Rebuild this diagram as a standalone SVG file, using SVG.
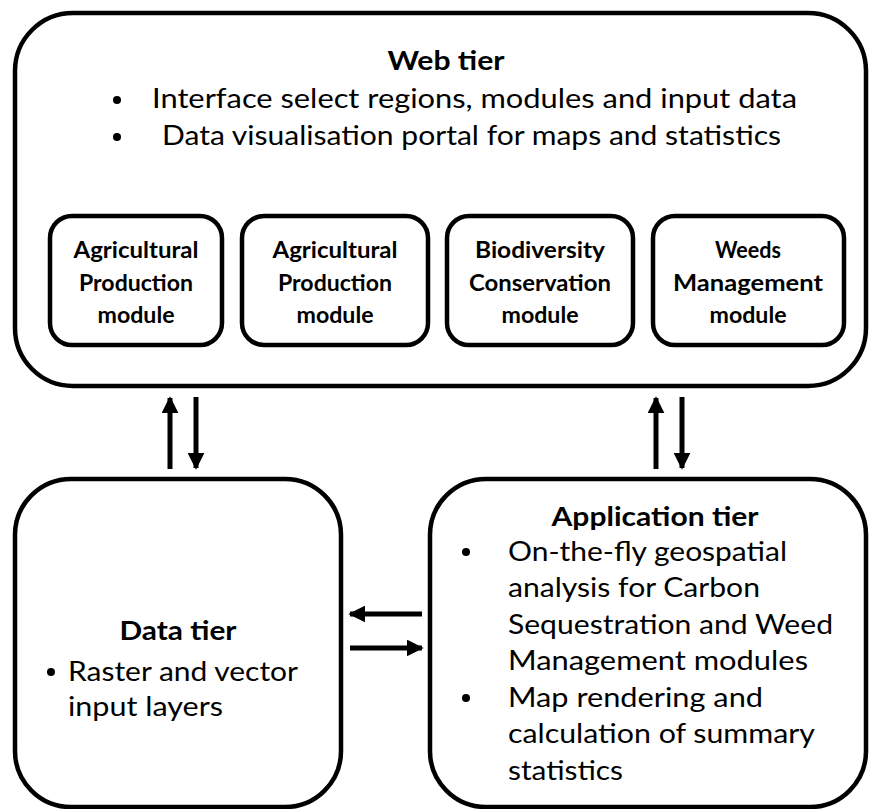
<svg xmlns="http://www.w3.org/2000/svg" width="869" height="809" viewBox="0 0 869 809">
  <style>
    .tier { fill: #ffffff; stroke: #000000; stroke-width: 4.5; }
    .mod { fill: #ffffff; stroke: #000000; stroke-width: 4.5; }
    text { font-family: "Lato", "Open Sans", "Liberation Sans", sans-serif; fill: #000000; }
    .title { font-size: 27px; font-weight: bold; text-anchor: middle; }
    .body { font-size: 26px; }
    .mt { font-size: 22px; font-weight: bold; text-anchor: middle; }
    .link { stroke: #000000; stroke-width: 5; fill: none; }
  </style>
  <defs>
    <marker id="head" viewBox="0 0 10 10" refX="9" refY="5" markerWidth="3.4" markerHeight="3.4" orient="auto" markerUnits="strokeWidth">
      <path d="M0,0 L10,5 L0,10 Z" fill="#000000"/>
    </marker>
  </defs>

  <!-- Web tier with its four module boxes -->
  <g id="web-tier">
    <rect class="tier" x="15" y="13" width="851" height="373" rx="58" ry="58"/>
    <text class="title" x="446" y="70" textLength="117" lengthAdjust="spacingAndGlyphs">Web tier</text>
    <circle cx="117" cy="100" r="4"/>
    <text class="body" x="152" y="108" textLength="645" lengthAdjust="spacingAndGlyphs">Interface select regions, modules and input data</text>
    <circle cx="117" cy="137" r="4"/>
    <text class="body" x="162" y="145" textLength="619" lengthAdjust="spacingAndGlyphs">Data visualisation portal for maps and statistics</text>
  </g>

  <g id="module-agri-1">
    <rect class="mod" x="50" y="216" width="172" height="129" rx="22" ry="22"/>
    <text class="mt" x="136" y="258" textLength="125" lengthAdjust="spacingAndGlyphs">Agricultural</text>
    <text class="mt" x="136" y="291" textLength="114" lengthAdjust="spacingAndGlyphs">Production</text>
    <text class="mt" x="136" y="323" textLength="77" lengthAdjust="spacingAndGlyphs">module</text>
  </g>
  <g id="module-agri-2">
    <rect class="mod" x="242" y="216" width="186" height="129" rx="22" ry="22"/>
    <text class="mt" x="335" y="258" textLength="125" lengthAdjust="spacingAndGlyphs">Agricultural</text>
    <text class="mt" x="335" y="291" textLength="114" lengthAdjust="spacingAndGlyphs">Production</text>
    <text class="mt" x="335" y="323" textLength="77" lengthAdjust="spacingAndGlyphs">module</text>
  </g>
  <g id="module-biodiversity">
    <rect class="mod" x="447" y="216" width="186" height="129" rx="22" ry="22"/>
    <text class="mt" x="540" y="258" textLength="130" lengthAdjust="spacingAndGlyphs">Biodiversity</text>
    <text class="mt" x="540" y="291" textLength="142" lengthAdjust="spacingAndGlyphs">Conservation</text>
    <text class="mt" x="540" y="323" textLength="77" lengthAdjust="spacingAndGlyphs">module</text>
  </g>
  <g id="module-weeds">
    <rect class="mod" x="653" y="216" width="191" height="129" rx="22" ry="22"/>
    <text class="mt" x="748" y="258" textLength="66" lengthAdjust="spacingAndGlyphs">Weeds</text>
    <text class="mt" x="748" y="291" textLength="150" lengthAdjust="spacingAndGlyphs">Management</text>
    <text class="mt" x="748" y="323" textLength="77" lengthAdjust="spacingAndGlyphs">module</text>
  </g>

  <!-- Data tier -->
  <g id="data-tier">
    <rect class="tier" x="15" y="479" width="326" height="328" rx="56" ry="56"/>
    <text class="title" x="178" y="640" textLength="117" lengthAdjust="spacingAndGlyphs">Data tier</text>
    <circle cx="51" cy="672" r="4"/>
    <text class="body" x="68" y="681" textLength="230" lengthAdjust="spacingAndGlyphs">Raster and vector</text>
    <text class="body" x="68" y="716" textLength="155" lengthAdjust="spacingAndGlyphs">input layers</text>
  </g>

  <!-- Application tier -->
  <g id="application-tier">
    <rect class="tier" x="430" y="479" width="436" height="328" rx="56" ry="56"/>
    <text class="title" x="655" y="526" textLength="207" lengthAdjust="spacingAndGlyphs">Application tier</text>
    <circle cx="466" cy="552" r="4"/>
    <text class="body" x="508" y="561" textLength="279" lengthAdjust="spacingAndGlyphs">On-the-fly geospatial</text>
    <text class="body" x="508" y="597" textLength="252" lengthAdjust="spacingAndGlyphs">analysis for Carbon</text>
    <text class="body" x="508" y="634" textLength="325" lengthAdjust="spacingAndGlyphs">Sequestration and Weed</text>
    <text class="body" x="508" y="670" textLength="300" lengthAdjust="spacingAndGlyphs">Management modules</text>
    <circle cx="466" cy="698" r="4"/>
    <text class="body" x="508" y="707" textLength="255" lengthAdjust="spacingAndGlyphs">Map rendering and</text>
    <text class="body" x="508" y="743" textLength="307" lengthAdjust="spacingAndGlyphs">calculation of summary</text>
    <text class="body" x="508" y="780" textLength="115" lengthAdjust="spacingAndGlyphs">statistics</text>
  </g>

  <!-- Connectors between tiers -->
  <g id="connectors">
    <line class="link" x1="170" y1="469" x2="170" y2="398" marker-end="url(#head)"/>
    <line class="link" x1="196" y1="397" x2="196" y2="468" marker-end="url(#head)"/>
    <line class="link" x1="656" y1="469" x2="656" y2="398" marker-end="url(#head)"/>
    <line class="link" x1="682" y1="397" x2="682" y2="468" marker-end="url(#head)"/>
    <line class="link" x1="422" y1="614" x2="350" y2="614" marker-end="url(#head)"/>
    <line class="link" x1="350" y1="648" x2="422" y2="648" marker-end="url(#head)"/>
  </g>
</svg>
